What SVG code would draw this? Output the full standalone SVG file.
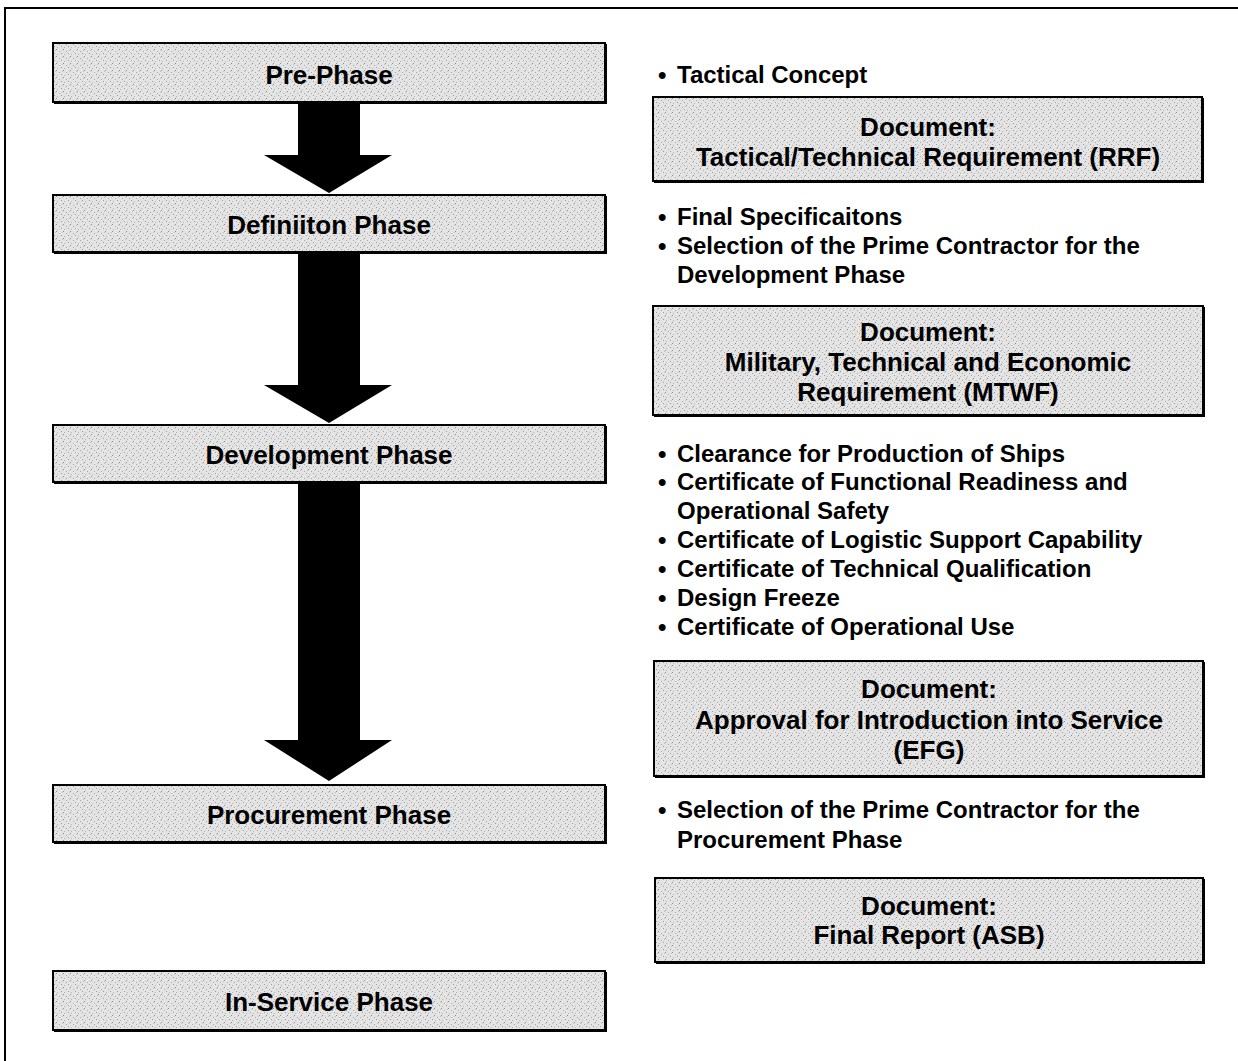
<svg xmlns="http://www.w3.org/2000/svg" width="1238" height="1061" viewBox="0 0 1238 1061">
<defs>
<pattern id="stip" width="7" height="7" patternUnits="userSpaceOnUse">
<rect width="7" height="7" fill="#e4e4e4"/>
<rect x="0" y="0" width="1" height="1" fill="#8f8f8f"/>
<rect x="3" y="2" width="1" height="1" fill="#a6a6a6"/>
<rect x="5" y="4" width="1" height="1" fill="#9c9c9c"/>
<rect x="1" y="5" width="1" height="1" fill="#b4b4b4"/>
<rect x="6" y="1" width="1" height="1" fill="#c0c0c0"/>
</pattern>
<style>
.box{fill:url(#stip);stroke:#000;stroke-width:2}
.sh{fill:none;stroke:#000;stroke-width:2}
text{font-family:"Liberation Sans",Arial,sans-serif;font-weight:bold;font-size:24px;fill:#000}
.c{text-anchor:middle;font-size:26px}
.arrow{fill:#000}
</style>
</defs>
<rect width="1238" height="1061" fill="#fff"/>
<path d="M5,1061 V8 H1238" fill="none" stroke="#000" stroke-width="2"/>

<g id="connectors">
<polygon class="arrow" points="298,102 360,102 360,155 392,155 329,193 264,155 298,155"/>
<polygon class="arrow" points="298,252 360,252 360,385 392,385 329,423 264,385 298,385"/>
<polygon class="arrow" points="298,482 360,482 360,740 392,740 329,781 264,740 298,740"/>
</g>

<g id="pre-phase">
<rect class="box" x="53" y="43" width="552" height="59"/>
<path class="sh" d="M54,103 H606 V44"/>
<text class="c" x="329" y="84">Pre-Phase</text>
</g>
<g id="definition-phase">
<rect class="box" x="53" y="195" width="552" height="57"/>
<path class="sh" d="M54,253 H606 V196"/>
<text class="c" x="329" y="234">Definiiton Phase</text>
</g>
<g id="development-phase">
<rect class="box" x="53" y="425" width="552" height="57"/>
<path class="sh" d="M54,483 H606 V426"/>
<text class="c" x="329" y="464">Development Phase</text>
</g>
<g id="procurement-phase">
<rect class="box" x="53" y="785" width="552" height="57"/>
<path class="sh" d="M54,843 H606 V786"/>
<text class="c" x="329" y="824">Procurement Phase</text>
</g>
<g id="in-service-phase">
<rect class="box" x="53" y="971" width="552" height="59"/>
<path class="sh" d="M54,1031 H606 V972"/>
<text class="c" x="329" y="1011">In-Service Phase</text>
</g>

<g id="bullets-pre">
<text x="658" y="83">•</text><text x="677" y="83">Tactical Concept</text>
</g>
<g id="doc-rrf">
<rect class="box" x="653" y="97" width="549" height="84"/>
<path class="sh" d="M654,182 H1203 V98"/>
<text class="c" x="928" y="136">Document:</text>
<text class="c" x="928" y="166">Tactical/Technical Requirement (RRF)</text>
</g>
<g id="bullets-def">
<text x="658" y="225">•</text><text x="677" y="225">Final Specificaitons</text>
<text x="658" y="254">•</text><text x="677" y="254">Selection of the Prime Contractor for the</text>
<text x="677" y="283">Development Phase</text>
</g>
<g id="doc-mtwf">
<rect class="box" x="653" y="306" width="550" height="109"/>
<path class="sh" d="M654,416 H1204 V307"/>
<text class="c" x="928" y="341">Document:</text>
<text class="c" x="928" y="371">Military, Technical and Economic</text>
<text class="c" x="928" y="401">Requirement (MTWF)</text>
</g>
<g id="bullets-dev">
<text x="658" y="462">•</text><text x="677" y="462">Clearance for Production of Ships</text>
<text x="658" y="490">•</text><text x="677" y="490">Certificate of Functional Readiness and</text>
<text x="677" y="519">Operational Safety</text>
<text x="658" y="548">•</text><text x="677" y="548">Certificate of Logistic Support Capability</text>
<text x="658" y="577">•</text><text x="677" y="577">Certificate of Technical Qualification</text>
<text x="658" y="606">•</text><text x="677" y="606">Design Freeze</text>
<text x="658" y="635">•</text><text x="677" y="635">Certificate of Operational Use</text>
</g>
<g id="doc-efg">
<rect class="box" x="654" y="661" width="549" height="115"/>
<path class="sh" d="M655,777 H1204 V662"/>
<text class="c" x="929" y="698">Document:</text>
<text class="c" x="929" y="729">Approval for Introduction into Service</text>
<text class="c" x="929" y="759">(EFG)</text>
</g>
<g id="bullets-proc">
<text x="658" y="818">•</text><text x="677" y="818">Selection of the Prime Contractor for the</text>
<text x="677" y="848">Procurement Phase</text>
</g>
<g id="doc-asb">
<rect class="box" x="655" y="878" width="548" height="84"/>
<path class="sh" d="M656,963 H1204 V879"/>
<text class="c" x="929" y="915">Document:</text>
<text class="c" x="929" y="944">Final Report (ASB)</text>
</g>
</svg>
